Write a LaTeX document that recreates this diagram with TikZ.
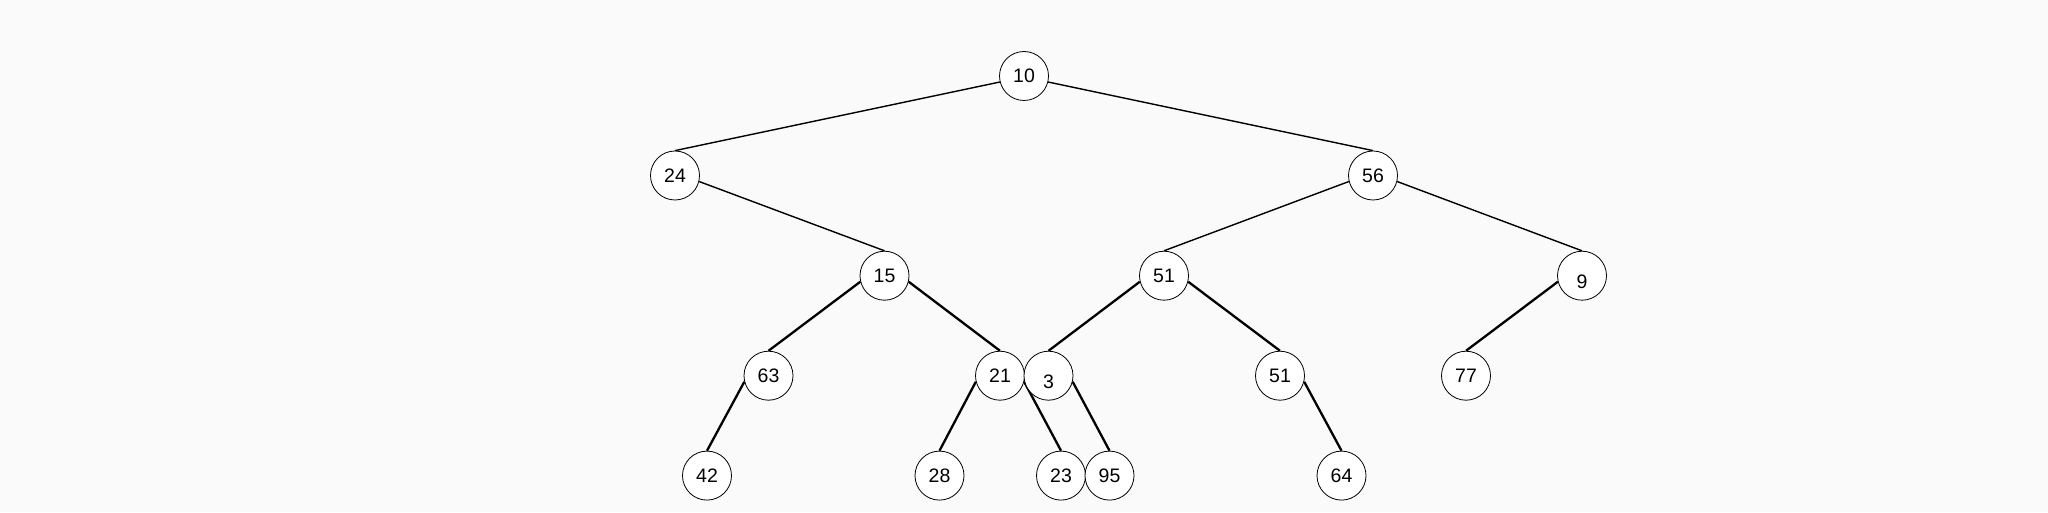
\documentclass[tikz,border=0pt]{standalone}
\usepackage{fontspec}
\setmainfont{Liberation Sans}
\usetikzlibrary{backgrounds}
\definecolor{bgc}{RGB}{250,250,250}
\tikzset{
  tn/.style={circle,draw=black,fill=white,line width=0.8pt,minimum size=49pt,inner sep=0pt,font=\fontsize{19.5}{24}\selectfont},
  tnlow/.style={tn,text height=26pt},
  edgethin/.style={draw=black,line width=1.4pt},
  edgethick/.style={draw=black,line width=2.3pt}
}
\begin{document}
\begin{tikzpicture}[x=1pt,y=1pt]
\useasboundingbox (0,0) rectangle (2048,512);
\node[tn] (n10) at (1024,436) {10};
\node[tn] (n24) at (675,336.5) {24};
\node[tn] (n56) at (1373,336.5) {56};
\node[tn] (n15) at (884.5,236.3) {15};
\node[tn] (n51) at (1164,236.3) {51};
\node[tnlow] (n9) at (1582,236.3) {9};
\node[tn] (n63) at (768.5,136.3) {63};
\node[tn] (n21) at (1000,136.3) {21};
\node[tnlow] (n3) at (1048.5,136.3) {3};
\node[tn] (n51b) at (1280,136.3) {51};
\node[tn] (n77) at (1466,136.3) {77};
\node[tn] (n42) at (707,36.4) {42};
\node[tn] (n28) at (939.5,36.4) {28};
\node[tn] (n23) at (1061,36.4) {23};
\node[tn] (n95) at (1109.5,36.4) {95};
\node[tn] (n64) at (1341.5,36.4) {64};
\begin{scope}[on background layer]
\fill[bgc] (0,0) rectangle (2048,512);
\draw[edgethin] (n10.194) -- (n24.north);
\draw[edgethin] (n10.-14) -- (n56.north);
\draw[edgethin] (n24.-14) -- (n15.north);
\draw[edgethin] (n56.194) -- (n51.north);
\draw[edgethin] (n56.-14) -- (n9.north);
\draw[edgethick] (n15.194) -- (n63.north);
\draw[edgethick] (n15.-14) -- (n21.north);
\draw[edgethick] (n51.194) -- (n3.north);
\draw[edgethick] (n51.-14) -- (n51b.north);
\draw[edgethick] (n9.194) -- (n77.north);
\draw[edgethick] (n63.194) -- (n42.north);
\draw[edgethick] (n21.194) -- (n28.north);
\draw[edgethick] (n21.-14) -- (n23.north);
\draw[edgethick] (n3.-14) -- (n95.north);
\draw[edgethick] (n51b.-14) -- (n64.north);
\end{scope}
\end{tikzpicture}
\end{document}
